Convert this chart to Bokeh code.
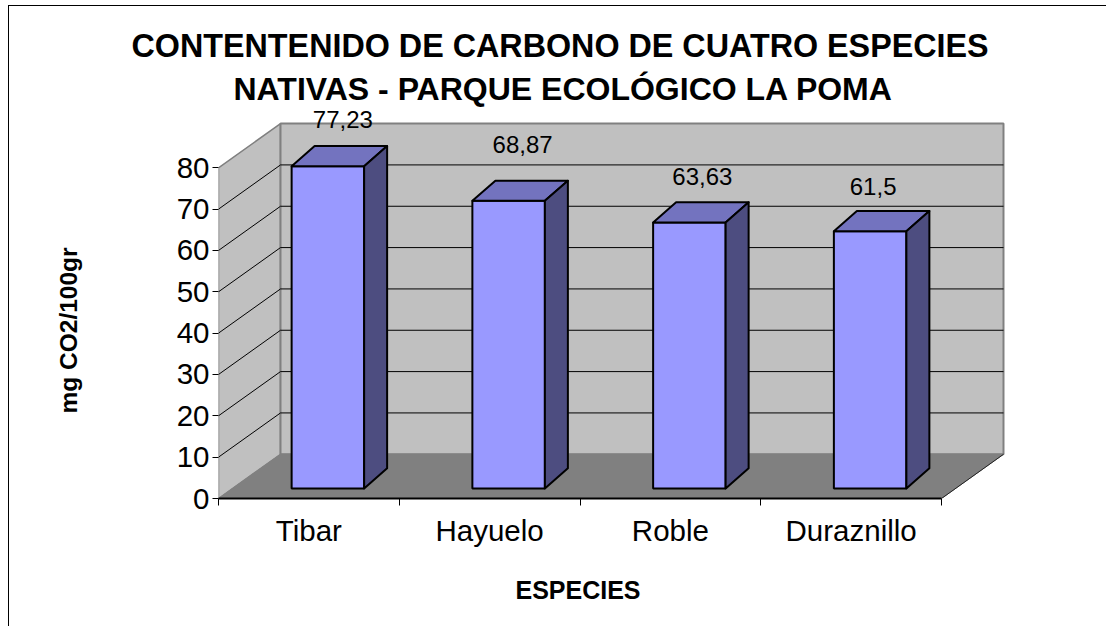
from bokeh.plotting import figure
from bokeh.models import Range1d, LinearAxis, FixedTicker, Title
from bokeh.core.properties import value
from bokeh.embed import file_html
from bokeh.resources import INLINE

title_lines = ["CONTENTENIDO DE CARBONO DE CUATRO ESPECIES", "NATIVAS - PARQUE ECOLÓGICO LA POMA"]
categories = ["Tibar", "Hayuelo", "Roble", "Duraznillo"]
values = [77.23, 68.87, 63.63, 61.5]
value_labels = ["77,23", "68,87", "63,63", "61,5"]
y_ticks = [0, 10, 20, 30, 40, 50, 60, 70, 80]
y_title = "mg CO2/100gr"
x_title = "ESPECIES"

FONT = "Liberation Sans"
# plot scale: pixels per category and per value unit
PX_X, PX_Y = 180.75, 4.1125
n = len(categories)
vmax = y_ticks[-1]
# depth of the 3D box
DX, DY = 62 / PX_X, 44 / PX_Y
# bar geometry inside the box
BW = 72.5 / PX_X
BC = 19 / PX_X
BASE = 10 / PX_Y
TOP = 13 / PX_Y
BDX, BDY = 23 / PX_X, 20 / PX_Y
HEAD = 15  # free pixels in the frame above the back wall, for the first value label

p = figure(width=1098, height=621, output_backend="svg", toolbar_location=None,
           x_range=Range1d(0, n + DX + 2 / PX_X), y_range=Range1d(0, vmax + DY + HEAD / PX_Y),
           x_axis_type=None, y_axis_type=None,
           min_border_left=209, min_border_right=102, min_border_top=102, min_border_bottom=129,
           outline_line_color=None, background_fill_color=None, border_fill_color="white",
           margin=(5, 0, 0, 8),
           styles={"border-left": "1px solid #000", "border-top": "1px solid #000"})
p.grid.visible = False

# walls and floor
WALL, EDGE = "#C0C0C0", "#808080"
p.patch([0, DX, DX, 0], [0, DY, vmax + DY, vmax], fill_color=WALL, line_color=EDGE, line_width=1.5)
p.patch([DX, n + DX, n + DX, DX], [DY, DY, vmax + DY, vmax + DY], fill_color=WALL, line_color=EDGE, line_width=2)
for v in y_ticks[1:-1]:
    p.line([0, DX, n + DX], [v, v + DY, v + DY], line_color="#000000", line_width=1)
p.patch([0, n, n + DX, DX], [0, 0, DY, DY], fill_color=EDGE, line_color=EDGE, line_width=1)
p.line([n, n + DX], [0, DY], line_color="#202020", line_width=1)

# bars
cx = [i + 0.5 + BC for i in range(n)]
x0 = [c - BW / 2 for c in cx]
x1 = [c + BW / 2 for c in cx]
yt = [v + TOP for v in values]
p.quad(left=x0, right=x1, bottom=BASE, top=yt, fill_color="#9999FF", line_color="#000000", line_width=2)
p.patches([[a, a + BDX, b + BDX, b] for a, b in zip(x0, x1)],
          [[t, t + BDY, t + BDY, t] for t in yt],
          fill_color="#7373BF", line_color="#000000", line_width=2, line_join="round")
p.patches([[b, b + BDX, b + BDX, b] for b in x1],
          [[BASE, BASE + BDY, t + BDY, t] for t in yt],
          fill_color="#4D4D80", line_color="#000000", line_width=2, line_join="round")

# value labels, lifted over the bars by differing amounts as in the original
label_lift = [47, 56, 46, 45]
label_shift = [3, 2, 1, -9]
p.text([i + 0.5 + 31 / PX_X for i in range(n)], yt, text=value_labels,
       x_offset=label_shift, y_offset=[-d for d in label_lift], text_font=value(FONT), text_font_size="24px",
       text_align="center", text_baseline="middle", text_color="#000000")

# axes
xax = LinearAxis(ticker=FixedTicker(ticks=[i + 0.5 for i in range(n)], minor_ticks=list(range(n + 1))),
                 major_label_overrides={i + 0.5: c for i, c in enumerate(categories)},
                 bounds=(0, n), major_tick_out=0, major_tick_in=0, minor_tick_out=7, minor_tick_in=0,
                 minor_tick_line_color="#000000", axis_line_color="#000000", axis_line_width=2,
                 major_label_standoff=8, major_label_text_font=FONT, major_label_text_font_size="29.5px",
                 major_label_text_color="#000000")
p.add_layout(xax, "below")
yax = LinearAxis(ticker=FixedTicker(ticks=y_ticks), bounds=(0, vmax), axis_line_color=None,
                 major_tick_out=6, major_tick_in=0, minor_tick_line_color=None,
                 major_tick_line_color="#000000", major_label_standoff=3,
                 major_label_text_font=FONT, major_label_text_font_size="29.5px",
                 major_label_text_color="#000000")
p.add_layout(yax, "left")

# title and axis titles, each offset from the frame's start along its own side
def add_title(text, side, offset, size, standoff):
    p.add_layout(Title(text=text, align="left", offset=offset, standoff=standoff,
                       text_font=FONT, text_font_size=size, text_font_style="bold",
                       text_color="#000000"), side)

add_title(title_lines[1], "above", 15, "32px", 3)
add_title(title_lines[0], "above", -87, "32.3px", 7)
add_title(x_title, "below", 297, "25px", 48)
add_title("\u00a0", "left", 0, "1px", 89)  # blank panel that keeps the axis title away from the tick labels
add_title(y_title, "left", 85, "24.5px", 0)

open("out.html", "w").write(file_html(p, INLINE))
